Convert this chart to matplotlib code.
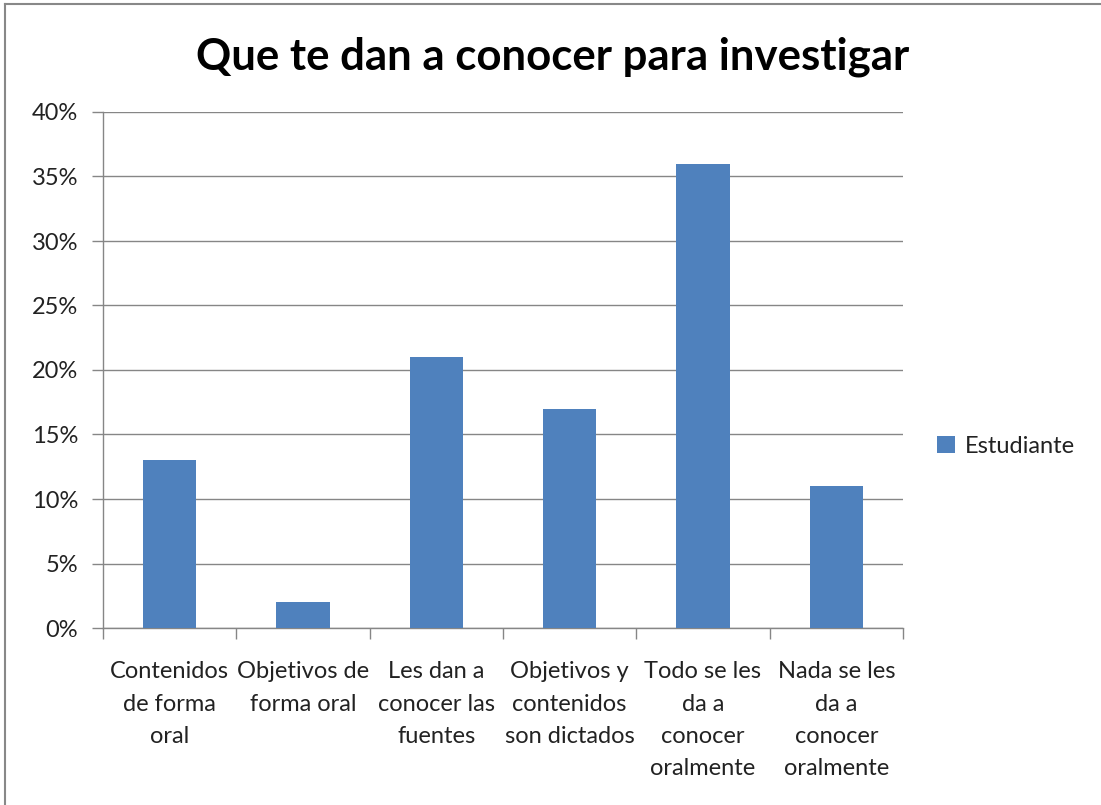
import matplotlib.pyplot as plt
import numpy as np
from matplotlib.ticker import FuncFormatter
from matplotlib.lines import Line2D

# Data
categories = ["Contenidos\nde forma\noral", "Objetivos de\nforma oral",
              "Les dan a\nconocer las\nfuentes", "Objetivos y\ncontenidos\nson dictados",
              "Todo se les\nda a\nconocer\noralmente", "Nada se les\nda a\nconocer\noralmente"]
values = [0.13, 0.02, 0.21, 0.17, 0.36, 0.11]
series_name = "Estudiante"

bar_color = "#4F81BD"
grid_color = "#868686"
text_color = "#222222"
plt.rcParams['font.family'] = ['Lato', 'DejaVu Sans']

fig = plt.figure(figsize=(11.01, 8.05), dpi=100)
ax = fig.add_axes([103/1101, 1-628/805, 800/1101, 516/805])

x = np.arange(len(categories))
ax.bar(x, values, width=0.4, color=bar_color, label=series_name, zorder=3)

ax.set_xlim(-0.5, len(categories)-0.5)
ax.set_ylim(0, 0.40)
ax.set_yticks(np.arange(0, 0.401, 0.05))
ax.yaxis.set_major_formatter(FuncFormatter(lambda v, p: f"{v*100:.0f}%"))
ax.grid(axis='y', color=grid_color, linewidth=1, zorder=0)

# category labels centred, ticks at category boundaries
ax.set_xticks(np.arange(-0.5, len(categories)))
ax.set_xticklabels([])
ax.set_xticks(x, minor=True)
ax.set_xticklabels(categories, minor=True, fontsize=17, color=text_color, linespacing=1.66)
ax.tick_params(axis='x', which='minor', length=0, pad=24)
ax.tick_params(axis='x', which='major', length=8, color=grid_color, width=1)
ax.tick_params(axis='y', length=8, color=grid_color, width=1, labelsize=17,
               labelcolor=text_color, pad=10)

for s in ['top', 'right']:
    ax.spines[s].set_visible(False)
for s in ['left', 'bottom']:
    ax.spines[s].set_color(grid_color)
    ax.spines[s].set_linewidth(1)

fig.text(553/1101, 1-57/805, "Que te dan a conocer para investigar", ha='center', va='center',
         fontsize=31.5, fontweight='bold', color='black')

ax.legend(loc='center left', bbox_to_anchor=(916/1101, 1-446/805), bbox_transform=fig.transFigure,
          frameon=False, fontsize=17, handlelength=0.75, handleheight=0.75, handletextpad=0.4,
          labelcolor=text_color)

# outer border (left and top visible)
fig.add_artist(Line2D([5/1101, 5/1101], [0, 1-4/805], transform=fig.transFigure, color="#888888", lw=1.5))
fig.add_artist(Line2D([5/1101, 1], [1-4/805, 1-4/805], transform=fig.transFigure, color="#888888", lw=1.5))

fig.savefig("out.png", dpi=100)
